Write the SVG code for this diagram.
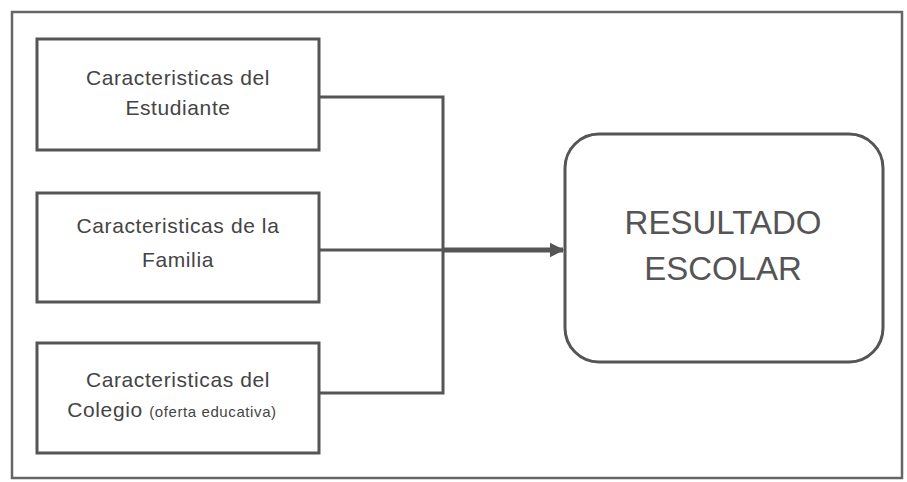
<svg xmlns="http://www.w3.org/2000/svg" width="907" height="482" viewBox="0 0 907 482">
<style>
.frame{fill:#fff;stroke:#666;stroke-width:2.5}
.box{fill:#fff;stroke:#555;stroke-width:3}
.t{font-family:"Liberation Sans",Arial,sans-serif;font-size:21px;fill:#444;text-anchor:middle;letter-spacing:0.6px}
.s{font-size:15px}
.big{font-family:"Liberation Sans",Arial,sans-serif;font-size:33px;fill:#555;text-anchor:middle}
.c{fill:none;stroke:#555;stroke-width:3}
.main{fill:none;stroke:#555;stroke-width:5}
</style>
<defs>
<marker id="ah" viewBox="0 0 10 10" refX="9" refY="5" markerWidth="3" markerHeight="3" orient="auto" markerUnits="strokeWidth">
<path d="M0,0 L10,5 L0,10 z" fill="#555"/>
</marker>
</defs>
<rect class="frame" x="12" y="12" width="890" height="466"/>
<g id="connectors">
<path class="c" d="M319,97 H443 V393 H319"/>
<path class="c" d="M319,250 H443"/>
<path class="main" d="M443,250 H563" marker-end="url(#ah)"/>
</g>
<g id="n1">
<rect class="box" x="37" y="39" width="282" height="111"/>
<text class="t" x="178" y="85">Caracteristicas del</text>
<text class="t" x="178" y="115">Estudiante</text>
</g>
<g id="n2">
<rect class="box" x="37" y="193" width="282" height="109"/>
<text class="t" x="178" y="233">Caracteristicas de la</text>
<text class="t" x="178" y="267">Familia</text>
</g>
<g id="n3">
<rect class="box" x="37" y="343" width="282" height="110"/>
<text class="t" x="178" y="387">Caracteristicas del</text>
<text class="t" x="172" y="417">Colegio <tspan class="s">(oferta educativa)</tspan></text>
</g>
<g id="n4">
<rect class="box" x="565" y="134" width="318" height="228" rx="34" ry="34"/>
<text class="big" x="723" y="234">RESULTADO</text>
<text class="big" x="723" y="280">ESCOLAR</text>
</g>
</svg>
